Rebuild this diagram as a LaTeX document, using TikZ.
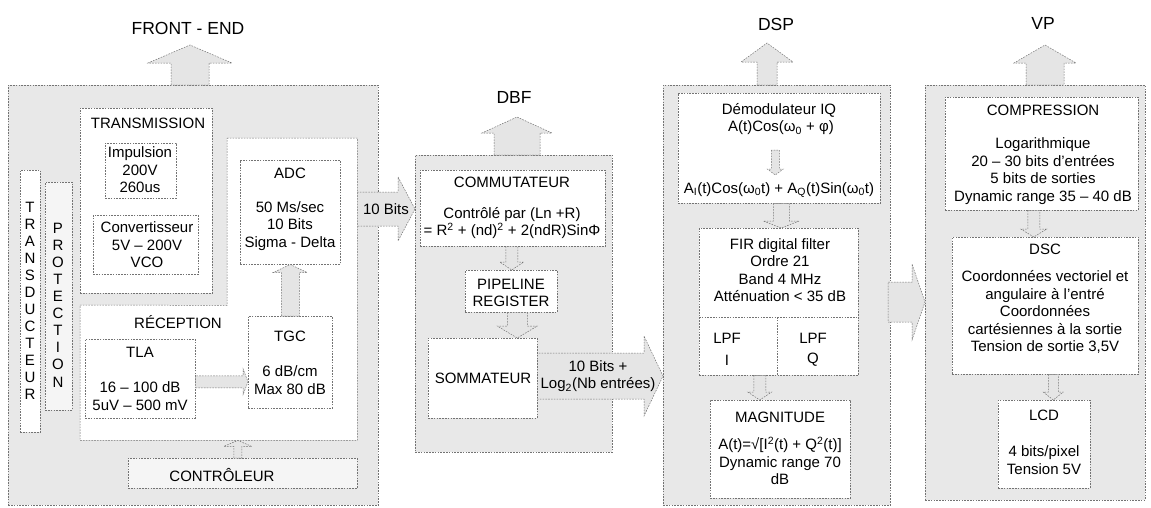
\documentclass[tikz,border=0pt]{standalone}
\usepackage{fontspec}
\setmainfont{Liberation Sans}
\usetikzlibrary{calc}
\newcommand{\bx}[6]{\node[#1,anchor=north west,minimum width=#4,minimum height=#5,inner sep=0pt] (#6) at (#2,#3) {};}
% vertical block arrow: start, tip, shaft half width, head half width, head length
\newcommand{\blkv}[5]{%
  \path[blk] let \p1=(#1), \p2=(#2), \n1={sign(\y2-\y1)*(#5)} in
   ({\x1-#3},{\y1}) -- ({\x1-#3},{\y2-(\n1)}) -- ({\x1-#4},{\y2-(\n1)}) -- ({\x1},{\y2}) -- ({\x1+#4},{\y2-(\n1)}) -- ({\x1+#3},{\y2-(\n1)}) -- ({\x1+#3},{\y1}) -- cycle;}
\newcommand{\blkh}[5]{%
  \path[blk] let \p1=(#1), \p2=(#2), \n1={sign(\x2-\x1)*(#5)} in
   ({\x1},{\y1-#3}) -- ({\x2-(\n1)},{\y1-#3}) -- ({\x2-(\n1)},{\y1-#4}) -- ({\x2},{\y1}) -- ({\x2-(\n1)},{\y1+#4}) -- ({\x2-(\n1)},{\y1+#3}) -- ({\x1},{\y1+#3}) -- cycle;}
\begin{document}
\begin{tikzpicture}[x=1pt,y=-1pt,
 base/.style={line width=0.5pt, draw=black!55, dash pattern=on 1.6pt off 1.2pt},
 outer/.style={base, fill=black!9},
 inner/.style={base, fill=white},
 soft/.style={base, fill=black!4},
 nofr/.style={fill=white},
 blk/.style={base, fill=black!10},
 ln/.style={base},
 txt/.style={inner sep=0pt, align=center, font=\fontsize{15}{17.5}\selectfont},
 ttl/.style={inner sep=0pt, font=\fontsize{17.5}{20}\selectfont}]
\useasboundingbox (0,0) rectangle (1151,507);

% ---------- titles
\node[ttl] (tfe)  at (188,28) {FRONT - END};
\node[ttl] (tdbf) at (514,97) {DBF};
\node[ttl] (tdsp) at (776,24) {DSP};
\node[ttl] (tvp)  at (1043,23) {VP};

% ---------- outer section boxes
\bx{outer}{8}{85}{370}{420}{fe}
\bx{outer}{415}{155}{197}{297}{dbf}
\bx{outer}{663}{85}{227}{420}{dsp}
\bx{outer}{925}{85}{220}{415}{vp}

% ---------- big arrows on top of sections
\coordinate (feTip) at (190,45);
\coordinate (dbfTip) at (517,117);
\coordinate (dspTip) at (767,43);
\coordinate (vpTip) at (1045,45);
\blkv{fe.north -| feTip}{feTip}{19}{42}{18}
\blkv{dbf.north -| dbfTip}{dbfTip}{23}{35}{16}
\blkv{dsp.north -| dspTip}{dspTip}{10}{26}{19}
\blkv{vp.north -| vpTip}{vpTip}{19}{31}{18}

% ---------- arrows between sections
\coordinate (tenA) at (355,209);
\blkh{tenA}{dbf.west |- tenA}{17}{32}{17}
\coordinate (sumA) at (537,376);
\blkh{sumA}{dsp.west |- sumA}{23}{40}{19}
\coordinate (dvA) at (888,302);
\blkh{dvA}{vp.west |- dvA}{20}{38}{13}

% ---------- FRONT-END content
\bx{inner}{20}{170}{20}{262}{transd}
\bx{soft}{45}{182}{27}{228}{prot}
\bx{inner}{80}{108}{132}{185}{trans}
\bx{nofr}{227}{138}{130}{167}{adccont}
\bx{nofr}{80}{305}{277}{135}{reccont}
\draw[ln] (adccont.north west) -- (adccont.north east) -- (reccont.south east) -- (reccont.south west) -- (reccont.north west) -- (adccont.south west) -- cycle;
\bx{inner}{105}{143}{71}{55}{imp}
\bx{inner}{93}{215}{105}{59}{conv}
\bx{inner}{240}{160}{100}{104}{adc}
\bx{inner}{248}{316}{84}{92}{tgc}
\bx{inner}{85}{339}{110}{79}{tla}
\bx{soft}{128}{458}{229}{30}{ctrl}

\blkv{tgc.north}{adc.south}{9}{17}{8}
\blkh{$(tla.east)+(0,3)$}{tgc.west}{6}{13}{5}
\blkv{$(ctrl.north)+(-5,0)$}{reccont.south}{4}{14}{6}

\foreach \l [count=\i from 0] in {T,R,A,N,S,D,U,C,T,E,U,R}
  \node[txt] (td\i) at (30,{207+17*\i}) {\l};
\foreach \l [count=\i from 0] in {P,R,O,T,E,C,T,I,O,N}
  \node[txt] (pr\i) at (58,{228+17.1*\i}) {\l};

\node[txt] (ttrans) at (148,123) {TRANSMISSION};
\node[txt] (timp) at (140,170) {Impulsion\\200V\\260us};
\node[txt] (tconv) at (147,245) {Convertisseur\\5V – 200V\\VCO};
\node[txt] (tadc) at (290,173) {ADC};
\node[txt] (tadc2) at (290,226) {50 Ms/sec\\10 Bits\\Sigma - Delta};
\node[txt] (trec) at (178,322) {RÉCEPTION};
\node[txt] (ttgc) at (290,336) {TGC};
\node[txt] (ttgc2) at (290,380) {6 dB/cm\\Max 80 dB};
\node[txt] (ttla) at (140,352) {TLA};
\node[txt] (ttla2) at (140,396) {16 – 100 dB\\5uV – 500 mV};
\node[txt] (tctrl) at (222,475) {CONTRÔLEUR};
\node[txt] (tten) at (386,209) {10 Bits};

% ---------- DBF content
\bx{inner}{420}{170}{185}{76}{commut}
\bx{inner}{465}{270}{92}{42}{pipe}
\bx{inner}{428}{338}{109}{80}{somm}
\blkv{$(commut.south)+(-1,0)$}{pipe.north}{6}{12}{8}
\blkv{$(pipe.south)+(6,0)$}{somm.north}{10}{20}{12}
\node[txt] (tcom) at (512,182) {COMMUTATEUR};
\node[txt] (tcom2) at (512,223) {Contrôlé par (Ln +R)\\= R\textsuperscript{2} + (nd)\textsuperscript{2} + 2(ndR)SinΦ};
\node[txt] (tpipe) at (511,293) {PIPELINE\\REGISTER};
\node[txt] (tsomm) at (483,378) {SOMMATEUR};
\node[txt] (tsum) at (598,376) {10 Bits +\\Log\textsubscript{2}(Nb entrées)};

% ---------- DSP content
\bx{inner}{678}{93}{202}{110}{demod}
\bx{inner}{699}{228}{159}{147}{fir}
\bx{inner}{710}{400}{140}{98}{mag}
\draw[ln] ($(fir.north west)+(0,89)$) coordinate (firL) -- ($(fir.north east)+(0,89)$) coordinate (firR);
\draw[ln] ($(fir.north west)+(78,89)$) coordinate (firD) -- (firD |- fir.south);
\blkv{$(demod.north)+(-4,57)$}{$(demod.north)+(-4,82)$}{4}{8}{6}
\blkv{$(demod.south)+(2,0)$}{fir.north}{8}{18}{7}
\blkv{$(fir.south)+(-19,0)$}{mag.north}{6}{12}{8}
\node[txt] (tdem) at (779,110) {Démodulateur IQ};
\node[txt] (tdem2) at (781,128) {A(t)Cos(ω\textsubscript{0} + φ)};
\node[txt] (tdem3) at (779,190) {A\textsubscript{I}(t)Cos(ω\textsubscript{0}t) + A\textsubscript{Q}(t)Sin(ω\textsubscript{0}t)};
\node[txt] (tfir) at (780,270) {FIR digital filter\\Ordre 21\\Band 4 MHz\\Atténuation < 35 dB};
\node[txt] (tlpf1) at (727,338) {LPF};
\node[txt] (tlpfi) at (727,360) {I};
\node[txt] (tlpf2) at (813,338) {LPF};
\node[txt] (tlpfq) at (813,360) {Q};
\node[txt] (tmag) at (780,417) {MAGNITUDE};
\node[txt] (tmag2) at (780,461) {A(t)=√[I\textsuperscript{2}(t) + Q\textsuperscript{2}(t)]\\Dynamic range 70\\dB};

% ---------- VP content
\bx{inner}{945}{97}{193}{113}{comp}
\bx{inner}{952}{237}{186}{137}{dsc}
\bx{inner}{998}{400}{92}{88}{lcd}
\blkv{$(comp.south)+(-8,0)$}{dsc.north}{6}{13}{8}
\blkv{$(dsc.south)+(8,0)$}{lcd.north}{5}{10}{8}
\node[txt] (tcomp) at (1043,110) {COMPRESSION};
\node[txt] (tcomp2) at (1043,171) {Logarithmique\\20 – 30 bits d’entrées\\5 bits de sorties\\Dynamic range 35 – 40 dB};
\node[txt] (tdsc) at (1045,249) {DSC};
\node[txt] (tdsc2) at (1045,312) {Coordonnées vectoriel et\\angulaire à l’entré\\Coordonnées\\cartésiennes à la sortie\\Tension de sortie 3,5V};
\node[txt] (tlcd) at (1044,415) {LCD};
\node[txt] (tlcd2) at (1044,460) {4 bits/pixel\\Tension 5V};
\end{tikzpicture}
\end{document}
